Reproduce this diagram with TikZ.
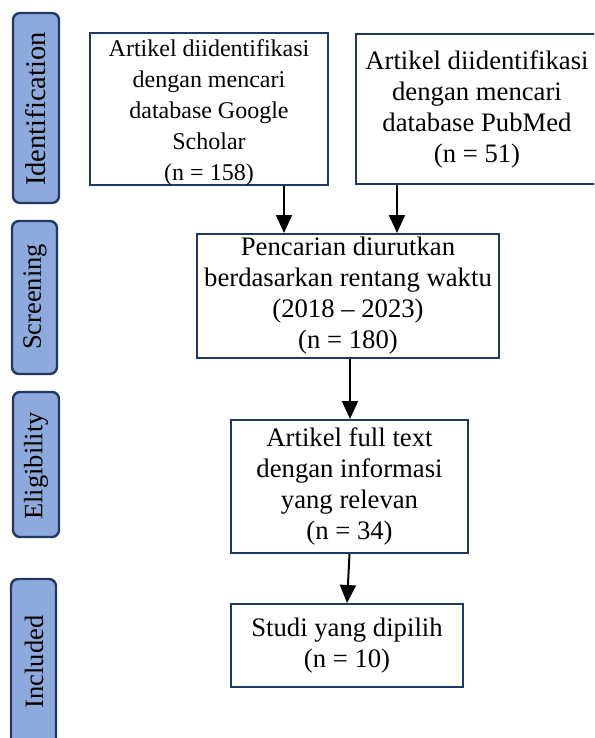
\documentclass[tikz,border=0pt]{standalone}
\usepackage{fontspec}
\setmainfont{Liberation Serif}
\usetikzlibrary{arrows.meta}
\definecolor{navy}{RGB}{32,56,100}
\definecolor{tabblue}{RGB}{142,169,219}
\tikzset{
  stagetab/.style={draw=navy, fill=tabblue, line width=2.4pt, rounded corners=7pt,
    inner sep=0pt},
  tablabel/.style={rotate=90, font=\fontsize{26.5}{31}\selectfont, inner sep=0pt},
  flowbox/.style={draw=navy, line width=2pt, fill=white, align=center,
    inner sep=0pt, font=\fontsize{26.7}{31}\selectfont},
  arr/.style={draw=black, line width=2pt, -{Triangle[length=18pt,width=16pt]}}
}
\begin{document}
\begin{tikzpicture}[x=1pt,y=-1pt]
  \useasboundingbox (0,0) rectangle (594,738);
  \clip (0,0) rectangle (594,738);

  % stage tabs on the left
  \draw[stagetab] (13,13) rectangle (59,203);
  \node[tablabel, font=\fontsize{28.5}{31}\selectfont] (tid) at (36,109) {Identification};
  \draw[stagetab] (12,221) rectangle (57,374);
  \node[tablabel] (tsc) at (35,297) {Screening};
  \draw[stagetab] (13,392) rectangle (59,537);
  \node[tablabel] (tel) at (36,466) {Eligibility};
  \draw[stagetab] (11,579) rectangle (56,760);
  \node[tablabel] (tin) at (34,662) {Included};

  % flow boxes
  \node[flowbox, minimum width=238pt, minimum height=152pt] (b1) at (209,109) {};
  \node[align=center, inner sep=0pt, font=\fontsize{24}{31}\selectfont] (t1) at (209,113)
    {Artikel diidentifikasi\\dengan mencari\\database Google\\Scholar\\(n = 158)};
  \node[flowbox, minimum width=242pt, minimum height=150pt] (b2) at (477,109)
    {Artikel diidentifikasi\\dengan mencari\\database PubMed\\(n = 51)};
  \node[flowbox, minimum width=302pt, minimum height=124pt] (b3) at (348,296)
    {Pencarian diurutkan\\berdasarkan rentang waktu\\(2018 -- 2023)\\(n = 180)};
  \node[flowbox, minimum width=237pt, minimum height=133pt] (b4) at (349.5,486.5)
    {Artikel full text\\dengan informasi\\yang relevan\\(n = 34)};
  \node[flowbox, minimum width=232pt, minimum height=83pt] (b5) at (347,645.5)
    {Studi yang dipilih\\(n = 10)};

  % arrow columns
  \coordinate (c1) at (284,0);
  \coordinate (c2) at (397,0);
  \coordinate (c3) at (350,0);

  % connectors
  \draw[arr] (b1.south -| c1) -- (b3.north -| c1);
  \draw[arr] (b2.south -| c2) -- (b3.north -| c2);
  \draw[arr] (b3.south -| c3) -- (b4.north -| c3);
  \draw[arr] (b4.south) -- (b5.north);
\end{tikzpicture}
\end{document}
